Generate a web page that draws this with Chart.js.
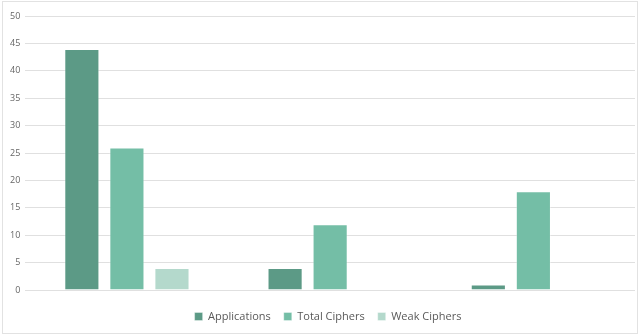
<!DOCTYPE html>
<html>
<head>
<meta charset="utf-8">
<script src="https://cdn.jsdelivr.net/npm/chart.js@4"></script>
<style>
    body { margin: 0; background: #fff; }
    #wrap { position: absolute; left: 2px; top: 1px; width: 636px; height: 333px; border: 1px solid #e2e2e2; box-sizing: border-box; }
    canvas { display: block; }
</style>
</head>
<body>
<div id="wrap"><canvas id="chart"></canvas></div>
<script>
// Data
const categories = ['', '', ''];
const applications = [44, 4, 1];
const totalCiphers = [26, 12, 18];
const weakCiphers = [4, 0, 0];
const yTicks = [0, 5, 10, 15, 20, 25, 30, 35, 40, 45, 50];

document.addEventListener('DOMContentLoaded', function() {
    const ctx = document.getElementById('chart').getContext('2d');

    function barSet(label, data, color) {
        return {
            label: label,
            data: data,
            backgroundColor: color,
            borderColor: 'rgba(255,255,255,0.35)',
            borderWidth: 1,
            barPercentage: 0.78,
            categoryPercentage: 0.665
        };
    }

    // the legend in the reference sits a bit right of centre
    const nudgeLegend = {
        id: 'nudgeLegend',
        afterLayout(chart) {
            if (chart.legend) {
                chart.legend.left += 8;
                chart.legend.right += 8;
            }
        }
    };

    new Chart(ctx, {
        type: 'bar',
        data: {
            labels: categories,
            datasets: [
                barSet('Applications', applications, '#5c9a86'),
                barSet('Total Ciphers', totalCiphers, '#74bea6'),
                barSet('Weak Ciphers', weakCiphers, '#b4d9cc')
            ]
        },
        options: {
            responsive: true,
            maintainAspectRatio: false,
            animation: false,
            layout: { padding: { top: 14, left: 2, right: 2, bottom: 1 } },
            plugins: {
                tooltip: { enabled: false },
                legend: {
                    position: 'bottom',
                    labels: {
                        boxWidth: 8,
                        boxHeight: 8,
                        padding: 13,
                        color: '#595959',
                        font: { family: 'Open Sans', size: 11 }
                    }
                }
            },
            scales: {
                x: {
                    grid: { display: false },
                    border: { display: false },
                    ticks: { display: false }
                },
                y: {
                    min: 0,
                    max: 50,
                    afterBuildTicks: axis => { axis.ticks = yTicks.map(v => ({ value: v })); },
                    grid: { color: '#e0e0e0', drawTicks: false },
                    border: { display: false },
                    ticks: {
                        padding: 5,
                        color: '#666',
                        font: { family: 'Open Sans', size: 9 }
                    }
                }
            }
        },
        plugins: [nudgeLegend]
    });
});
</script>
</body>
</html>
